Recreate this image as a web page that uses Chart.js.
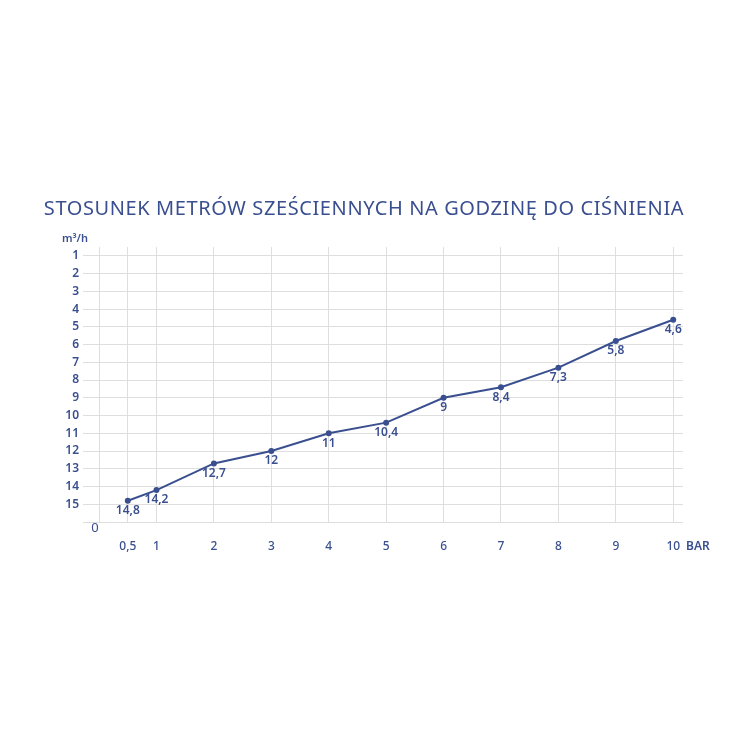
<!DOCTYPE html>
<html>
<head>
<meta charset="utf-8">
<script src="https://cdn.jsdelivr.net/npm/chart.js@4"></script>
<style>
  body { margin: 0; background: #fff; }
  #wrap { width: 750px; height: 750px; }
</style>
</head>
<body>
<div id="wrap"><canvas id="chart" width="750" height="750"></canvas></div>
<script>
// Data
const pressure = [0.5, 1, 2, 3, 4, 5, 6, 7, 8, 9, 10];
const flow = [14.8, 14.2, 12.7, 12, 11, 10.4, 9, 8.4, 7.3, 5.8, 4.6];
const flowLabels = ['14,8', '14,2', '12,7', '12', '11', '10,4', '9', '8,4', '7,3', '5,8', '4,6'];
const xTicks = [0, 0.5, 1, 2, 3, 4, 5, 6, 7, 8, 9, 10];
const yTicks = [1, 2, 3, 4, 5, 6, 7, 8, 9, 10, 11, 12, 13, 14, 15, 16];

const titleText = 'STOSUNEK METRÓW SZEŚCIENNYCH NA GODZINĘ DO CIŚNIENIA';
const blue = '#3a4f8f';
const fontFam = '"Noto Sans", sans-serif';

const extras = {
    id: 'extras',
    afterDatasetsDraw(chart) {
        const c = chart.ctx;
        const x = chart.scales.x;
        c.save();
        c.fillStyle = blue;
        c.textAlign = 'center';
        c.textBaseline = 'middle';

        // value labels under points
        c.font = '600 12px ' + fontFam;
        chart.getDatasetMeta(0).data.forEach((pt, i) => {
            c.fillText(flowLabels[i], pt.x, pt.y + 10);
        });

        // title
        c.font = '400 20px ' + fontFam;
        c.letterSpacing = '0.6px';
        c.fillText(titleText, 364, chart.chartArea.top - 38);
        c.letterSpacing = '0px';

        // unit labels
        c.font = '600 11px ' + fontFam;
        c.fillText('m³/h', 75, chart.chartArea.top - 8);
        c.textAlign = 'left';
        c.font = '600 12px ' + fontFam;
        c.fillText('BAR', x.right + 3, chart.chartArea.bottom + 25);

        // origin
        c.textAlign = 'center';
        c.font = '400 13px ' + fontFam;
        c.fillText('0', x.getPixelForValue(0) - 4, chart.chartArea.bottom + 6);
        c.restore();
    }
};

new Chart(document.getElementById('chart'), {
    type: 'line',
    data: {
        datasets: [{
            data: pressure.map((p, i) => ({ x: p, y: flow[i] })),
            borderColor: blue,
            backgroundColor: blue,
            borderWidth: 2,
            pointRadius: 2,
            tension: 0
        }]
    },
    options: {
        responsive: false,
        animation: false,
        layout: { padding: { top: 247, left: 0, right: 67, bottom: 188 } },
        plugins: { legend: { display: false }, tooltip: { enabled: false } },
        scales: {
            x: {
                type: 'linear',
                min: -0.28,
                max: 10.17,
                afterBuildTicks: s => { s.ticks = xTicks.map(v => ({ value: v })); },
                afterFit: s => { s.height = 40; },
                grid: { color: '#dedede', drawTicks: false },
                border: { display: false },
                ticks: {
                    padding: 17,
                    color: blue,
                    font: { family: fontFam, size: 12, weight: '500' },
                    callback: v => v === 0 ? '' : String(v).replace('.', ',')
                }
            },
            y: {
                reverse: true,
                min: 0.5,
                max: 16,
                afterBuildTicks: s => { s.ticks = yTicks.map(v => ({ value: v })); },
                afterFit: s => { s.width = 83; },
                grid: { color: '#dedede', drawTicks: false },
                border: { display: false },
                ticks: {
                    padding: 4,
                    color: blue,
                    font: { family: fontFam, size: 12, weight: '600' },
                    callback: v => v === 16 ? '' : String(v)
                }
            }
        }
    },
    plugins: [extras]
});
</script>
</body>
</html>
